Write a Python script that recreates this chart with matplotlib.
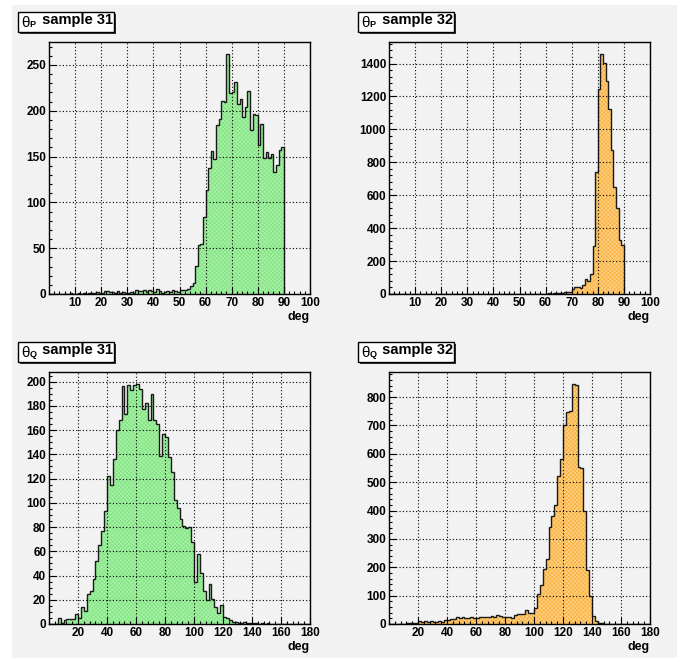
import matplotlib.pyplot as plt
from matplotlib.patches import Rectangle
from matplotlib.ticker import MultipleLocator, FixedLocator

plt.rcParams['font.family'] = ['Liberation Sans', 'DejaVu Sans']
plt.rcParams['font.weight'] = 'bold'
plt.rcParams['hatch.linewidth'] = 0.5

# theta_P, 1 deg bins from 0 to 90
edges_p = list(range(0, 91))
theta_p_31 = [0, 0, 0, 0, 0, 0, 0, 0, 1, 0,
              0, 1, 0, 1, 0, 1, 1, 1, 2, 1,
              1, 3, 3, 2, 2, 1, 3, 1, 2, 1,
              1, 2, 1, 4, 3, 3, 4, 2, 4, 3,
              2, 6, 3, 1, 2, 3, 2, 4, 3, 2,
              4, 4, 4, 6, 9, 12, 31, 54, 55, 84,
              113, 138, 156, 147, 185, 191, 211, 210, 262, 219,
              220, 231, 207, 213, 193, 204, 222, 179, 196, 195,
              163, 186, 148, 155, 148, 153, 133, 141, 157, 160]
theta_p_32 = [0, 0, 0, 0, 0, 0, 0, 0, 0, 0,
              0, 0, 0, 0, 0, 0, 0, 0, 0, 0,
              0, 0, 0, 0, 0, 0, 0, 0, 0, 0,
              0, 0, 0, 0, 0, 0, 0, 0, 0, 0,
              0, 0, 0, 0, 0, 0, 0, 0, 0, 0,
              0, 0, 0, 0, 0, 1, 1, 2, 2, 3,
              3, 4, 3, 5, 5, 6, 8, 10, 13, 15,
              30, 40, 43, 38, 55, 93, 80, 122, 292, 740,
              1243, 1458, 1404, 1293, 1122, 874, 649, 524, 326, 300]

# theta_Q, 2 deg bins from 0 to 180
edges_q = list(range(0, 181, 2))
theta_q_31 = [0, 0, 0, 5, 1, 3, 4, 4, 4, 8,
              5, 14, 11, 25, 27, 37, 52, 65, 77, 93,
              122, 115, 136, 160, 168, 196, 173, 197, 193, 197,
              198, 194, 177, 182, 168, 190, 168, 165, 139, 157,
              154, 138, 125, 102, 96, 87, 81, 79, 80, 68,
              35, 58, 42, 27, 20, 33, 21, 14, 9, 16,
              6, 5, 3, 2, 2, 1, 1, 2, 1, 1,
              1, 1, 0, 1, 0, 1, 0, 0, 0, 0,
              0, 0, 0, 0, 0, 0, 0, 0, 0, 0]
theta_q_32 = [0, 0, 0, 0, 0, 1, 2, 5, 3, 2,
              12, 7, 9, 7, 10, 8, 7, 10, 6, 14,
              15, 19, 19, 23, 20, 23, 20, 22, 26, 21,
              22, 23, 26, 23, 23, 28, 26, 32, 27, 26,
              23, 26, 20, 30, 34, 35, 35, 48, 40, 38,
              56, 104, 138, 195, 228, 341, 382, 420, 521, 581,
              702, 748, 752, 846, 843, 554, 550, 397, 192, 100,
              27, 12, 5, 2, 1, 1, 0, 0, 0, 0,
              0, 0, 0, 0, 0, 0, 0, 0, 0, 0]

titles = ['P', 'P', 'Q', 'Q']
samples = ['31', '32', '31', '32']

W, H = 679, 658
fig = plt.figure(figsize=(W / 100, H / 100), dpi=100)
fig.patch.set_facecolor('white')
fig.patches.append(Rectangle((12 / W, 0), 665 / W, 1 - 5 / H, transform=fig.transFigure,
                             fc='#f2f2f2', ec='none', zorder=-5))

green = ('#a8f0a8', '#80e480')
orange = ('#ffd080', '#f8b040')

panels = [
    # x, y (px from top-left), data, edges, colours, xmax, xmajor, xminor, ymajor, yminor
    (49, 42, theta_p_31, edges_p, green, 100, 10, 2, 50, 10),
    (389, 42, theta_p_32, edges_p, orange, 100, 10, 2, 200, 40),
    (49, 372, theta_q_31, edges_q, green, 180, 20, 4, 20, 5),
    (389, 372, theta_q_32, edges_q, orange, 180, 20, 4, 100, 20),
]
aw, ah = 261, 252

for i, (px, py, vals, edges, cols, xmax, xmaj, xmin, ymaj, ymin) in enumerate(panels):
    ax = fig.add_axes([px / W, 1 - (py + ah) / H, aw / W, ah / H])
    ax.set_facecolor('#f2f2f2')
    ax.stairs(vals, edges, fill=True, facecolor=cols[0], edgecolor=cols[1],
              hatch='xxxxxxxx', linewidth=0, zorder=1)
    ax.stairs(vals, edges, baseline=0, fill=False, color='#1a1a1a', linewidth=1.0, zorder=1.5)
    ax.set_xlim(0, xmax)
    ax.set_ylim(0, 1.05 * max(vals))
    ax.xaxis.set_major_locator(FixedLocator(list(range(xmaj, xmax + 1, xmaj))))
    ax.xaxis.set_minor_locator(MultipleLocator(xmin))
    ax.yaxis.set_major_locator(MultipleLocator(ymaj))
    ax.yaxis.set_minor_locator(MultipleLocator(ymin))
    ax.grid(True, which='major', color='black', linestyle=(0, (1, 2)), linewidth=0.8)
    ax.set_axisbelow(False)
    ax.tick_params(which='both', direction='in', top=False, right=False,
                   labelsize=8.5, width=0.8, colors='black')
    ax.tick_params(which='major', length=5, pad=2)
    ax.tick_params(which='minor', length=2.5)
    for s in ax.spines.values():
        s.set_linewidth(1.0)
    ax.text(1.0, -0.092, 'deg', transform=ax.transAxes, ha='right', va='center', fontsize=9)

    # title box with shadow
    bx, by = px - 31, py - 30
    bw, bh = 96, 20
    fig.patches.append(Rectangle(((bx + 2) / W, 1 - (by + bh + 2) / H), bw / W, bh / H,
                                 transform=fig.transFigure, fc='#333333', ec='none', zorder=3))
    fig.patches.append(Rectangle((bx / W, 1 - (by + bh) / H), bw / W, bh / H,
                                 transform=fig.transFigure, fc='white', ec='black',
                                 lw=1, zorder=4))
    t1 = fig.text((bx + 3) / W, 1 - (by + bh / 2 + 1) / H, '\u03b8', fontweight='normal',
                  ha='left', va='center', fontsize=11, zorder=5)
    fig.add_artist(plt.Annotation(titles[i], xy=(1.0, 0.05), xycoords=t1,
                                  fontsize=6.5, ha='left', va='bottom', zorder=5))
    fig.add_artist(plt.Annotation(' sample ' + samples[i], xy=(1.0, 0.0), xycoords=t1,
                                  xytext=(6, 2), textcoords='offset points',
                                  fontsize=10.5, ha='left', va='bottom', zorder=5))

fig.savefig('out.png', dpi=100, facecolor=fig.get_facecolor())
